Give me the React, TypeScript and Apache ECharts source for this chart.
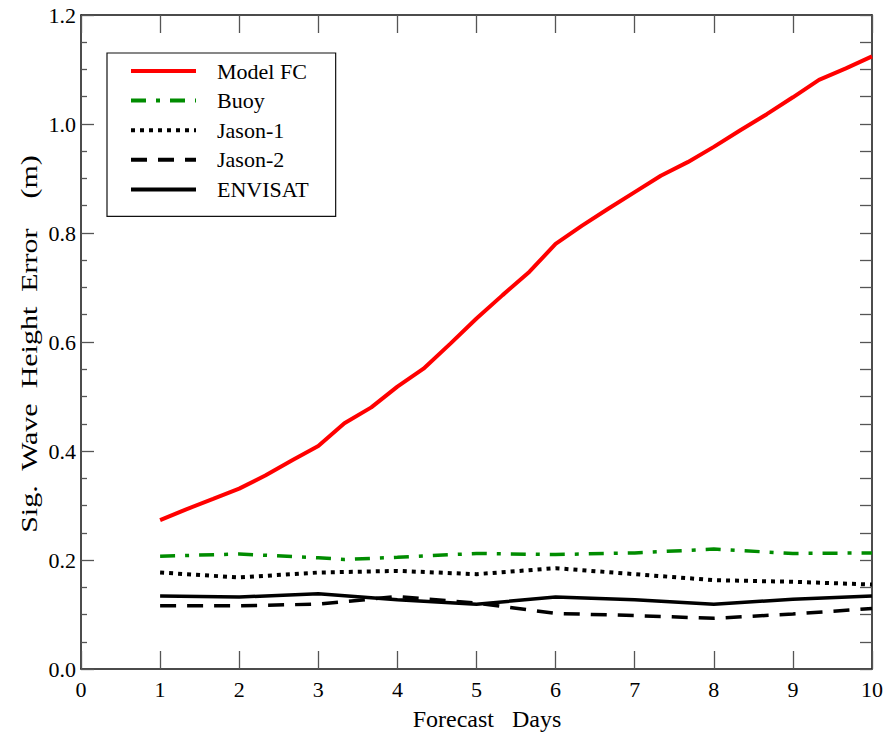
import React, { useEffect, useRef } from "react";
import * as echarts from "echarts";

const modelDays = [1, 1.33, 1.67, 2, 2.33, 2.67, 3, 3.33, 3.67, 4, 4.33, 4.67, 5, 5.33, 5.67, 6, 6.33, 6.67, 7, 7.33, 7.67, 8, 8.33, 8.67, 9, 9.33, 9.67, 10];
const modelFC = [0.273, 0.293, 0.312, 0.331, 0.355, 0.383, 0.409, 0.451, 0.48, 0.518, 0.551, 0.597, 0.643, 0.686, 0.729, 0.78, 0.813, 0.845, 0.875, 0.905, 0.93, 0.958, 0.988, 1.018, 1.049, 1.081, 1.102, 1.124];

const buoyDays = [1, 2, 3, 3.33, 4, 5, 6, 7, 8, 9, 10];
const buoy = [0.207, 0.211, 0.204, 0.201, 0.205, 0.212, 0.21, 0.213, 0.22, 0.212, 0.213];

const satDays = [1, 2, 3, 4, 5, 6, 7, 8, 9, 10];
const jason1 = [0.177, 0.168, 0.177, 0.18, 0.174, 0.185, 0.174, 0.163, 0.16, 0.155];
const jason2 = [0.116, 0.116, 0.119, 0.133, 0.121, 0.102, 0.098, 0.093, 0.101, 0.111];
const envisat = [0.134, 0.132, 0.138, 0.127, 0.119, 0.132, 0.127, 0.119, 0.128, 0.134];

const seriesNames = ["Model FC", "Buoy", "Jason-1", "Jason-2", "ENVISAT"];
const xTitle = "Forecast   Days";
const yTitle = "Sig.  Wave  Height  Error    (m)";

const FONT = "Liberation Serif";

const pairs = (xs: number[], ys: number[]) => xs.map((x, i) => [x, ys[i]]);

export default function App() {
  const ref = useRef<HTMLDivElement>(null);
  useEffect(() => {
    if (!ref.current) return;
    const chart = echarts.init(ref.current, null, { renderer: "svg" });
    const axisLine = { show: true, onZero: false, lineStyle: { color: "#111", width: 1.5 } };
    const tickStyle = { color: "#555", width: 1.3 };
    chart.setOption({
      animation: false,
      backgroundColor: "#fff",
      grid: { left: 81, right: 24, top: 15, bottom: 65, containLabel: false },
      legend: {
        orient: "vertical",
        left: 107,
        top: 53,
        data: seriesNames,
        itemWidth: 65,
        itemHeight: 14,
        itemGap: 7.6,
        padding: [7, 27, 16, 22],
        borderColor: "#111",
        borderWidth: 1.2,
        backgroundColor: "#fff",
        itemStyle: { opacity: 0 },
        lineStyle: { width: 4 },
        textStyle: { fontFamily: FONT, fontSize: 22, color: "#000", padding: [0, 0, 0, 16] },
      },
      xAxis: [
        {
          type: "value",
          min: 0,
          max: 10,
          interval: 1,
          position: "bottom",
          axisLine,
          axisTick: { show: true, inside: true, length: 18, lineStyle: tickStyle },
          axisLabel: { fontFamily: FONT, fontSize: 22, color: "#000", margin: 9 },
          splitLine: { show: false },
        },
        {
          type: "value",
          min: 0,
          max: 10,
          interval: 1,
          position: "top",
          axisLine,
          axisTick: { show: true, inside: true, length: 18, lineStyle: tickStyle },
          axisLabel: { show: false },
          splitLine: { show: false },
        },
      ],
      yAxis: [
        {
          type: "value",
          min: 0,
          max: 1.2,
          interval: 0.2,
          position: "left",
          axisLine,
          axisTick: { show: true, inside: true, length: 13, lineStyle: tickStyle },
          minorTick: { show: true, splitNumber: 4, length: 6, lineStyle: tickStyle },
          axisLabel: {
            fontFamily: FONT,
            fontSize: 22,
            color: "#000",
            margin: 5,
            formatter: (v: number) => v.toFixed(1),
          },
          splitLine: { show: false },
          minorSplitLine: { show: false },
        },
        {
          type: "value",
          min: 0,
          max: 1.2,
          interval: 0.2,
          position: "right",
          axisLine,
          axisTick: { show: true, inside: true, length: 12, lineStyle: tickStyle },
          minorTick: { show: true, splitNumber: 4, length: 12, lineStyle: tickStyle },
          axisLabel: { show: false },
          splitLine: { show: false },
          minorSplitLine: { show: false },
        },
      ],
      series: [
        {
          name: seriesNames[0],
          type: "line",
          symbol: "none",
          data: pairs(modelDays, modelFC),
          lineStyle: { color: "#ff0000", width: 4 },
          itemStyle: { color: "#ff0000" },
          z: 5,
        },
        {
          name: seriesNames[1],
          type: "line",
          symbol: "none",
          data: pairs(buoyDays, buoy),
          lineStyle: { color: "#008c00", width: 3.5, type: [15, 10, 4, 10] },
          itemStyle: { color: "#008c00" },
        },
        {
          name: seriesNames[2],
          type: "line",
          symbol: "none",
          data: pairs(satDays, jason1),
          lineStyle: { color: "#000", width: 4, type: [4, 5] },
          itemStyle: { color: "#000" },
        },
        {
          name: seriesNames[3],
          type: "line",
          symbol: "none",
          data: pairs(satDays, jason2),
          lineStyle: { color: "#000", width: 3.5, type: [16, 11] },
          itemStyle: { color: "#000" },
        },
        {
          name: seriesNames[4],
          type: "line",
          symbol: "none",
          data: pairs(satDays, envisat),
          lineStyle: { color: "#000", width: 3.5 },
          itemStyle: { color: "#000" },
        },
      ],
      graphic: [
        {
          type: "text",
          x: 487,
          y: 719,
          style: {
            text: xTitle,
            fontFamily: FONT,
            fontSize: 24,
            fill: "#000",
            align: "center",
            verticalAlign: "middle",
          },
        },
        {
          type: "text",
          x: 29,
          y: 344,
          rotation: Math.PI / 2,
          scaleX: 1.25,
          scaleY: 1,
          style: {
            text: yTitle,
            fontFamily: FONT,
            fontSize: 24,
            fill: "#000",
            align: "center",
            verticalAlign: "middle",
          },
        },
      ],
    });
    return () => chart.dispose();
  }, []);
  return (
    <div
      ref={ref}
      style={{ position: "absolute", left: 0, top: 0, width: 896, height: 734, background: "#fff" }}
    />
  );
}
